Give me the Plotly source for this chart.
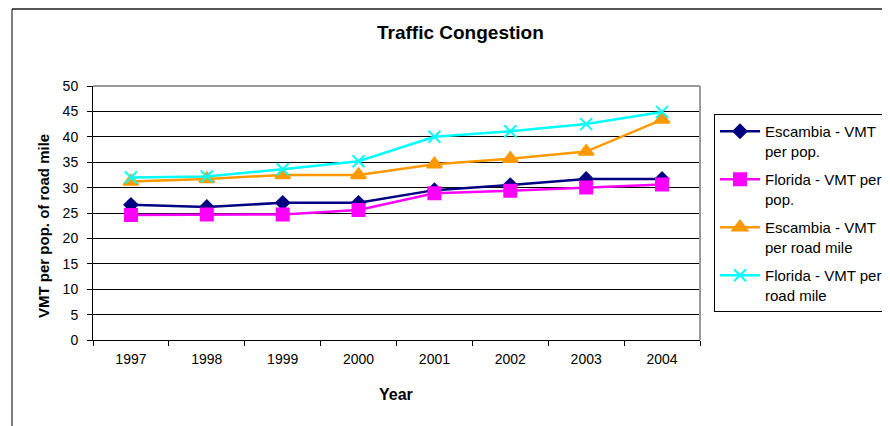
import plotly.graph_objects as go

years = ["1997", "1998", "1999", "2000", "2001", "2002", "2003", "2004"]
esc_pop = [26.6, 26.2, 27.0, 27.0, 29.5, 30.5, 31.7, 31.7]
fla_pop = [24.6, 24.7, 24.7, 25.6, 28.9, 29.4, 30.0, 30.6]
esc_mile = [31.2, 31.7, 32.5, 32.5, 34.6, 35.7, 37.1, 43.4]
fla_mile = [32.0, 32.2, 33.6, 35.2, 40.0, 41.1, 42.5, 44.9]
y_ticks = list(range(0, 55, 5))

series = [
    ("Escambia - VMT<br>per pop.", esc_pop, "#000080", "diamond", 10),
    ("Florida - VMT per<br>pop.", fla_pop, "#FF00FF", "square", 12),
    ("Escambia - VMT<br>per road mile", esc_mile, "#FF9900", "triangle-up", 13),
    ("Florida - VMT per<br>road mile", fla_mile, "#00FFFF", "x-thin-open", 12),
]

fig = go.Figure()
for i, (name, vals, col, sym, sz) in enumerate(series):
    fig.add_trace(go.Scatter(
        x=years, y=vals, name=name, mode="lines+markers",
        line=dict(color=col, width=2.5),
        marker=dict(symbol=sym, size=sz, color=col, line=dict(color=col, width=2)),
        legendgroup=f"g{i}",
    ))

OFF = 8  # page body margin
L, R, T, B = 93, 700, 86, 340   # target page coords of the plot area
W, H = 890 - OFF, 426 - OFF
pw, ph = R - L, B - T

def px(x):
    return (x - L) / pw

def py(y):
    return (B - y) / ph

fig.update_layout(
    width=W, height=H,
    margin=dict(l=L - OFF, r=W - (R - OFF), t=T - OFF, b=H - (B - OFF), pad=0),
    paper_bgcolor="white", plot_bgcolor="white",
    font=dict(family="Liberation Sans, Arial, sans-serif", size=14, color="black"),
    showlegend=True,
    legend=dict(
        xref="container", yref="container",
        x=(714 - OFF) / W, y=(H - (114 - OFF)) / H, xanchor="left", yanchor="top",
        bordercolor="black", borderwidth=1, bgcolor="white",
        font=dict(size=15), tracegroupgap=6, valign="top",
        itemwidth=40,
    ),
    annotations=[
        dict(text="<b>Traffic Congestion</b>", x=px(460), y=py(33), xref="paper", yref="paper",
             showarrow=False, font=dict(size=19), xanchor="center", yanchor="middle"),
        dict(text="<b>VMT per pop. of road mile</b>", x=px(43), y=py(226), xref="paper", yref="paper",
             showarrow=False, font=dict(size=15), textangle=-90, xanchor="center", yanchor="middle"),
        dict(text="<b>Year</b>", x=px(396), y=py(394), xref="paper", yref="paper",
             showarrow=False, font=dict(size=16), xanchor="center", yanchor="middle"),
    ],
    shapes=[
        dict(type="line", xref="paper", yref="paper", x0=px(12), x1=px(900), y0=py(9), y1=py(9),
             line=dict(color="#555555", width=2)),
        dict(type="line", xref="paper", yref="paper", x0=px(12), x1=px(12), y0=py(9), y1=py(440),
             line=dict(color="black", width=1)),
        dict(type="line", xref="paper", yref="paper", x0=0, x1=1, y0=1, y1=1,
             line=dict(color="#999999", width=2)),
        dict(type="line", xref="paper", yref="paper", x0=1, x1=1, y0=0, y1=1,
             line=dict(color="#999999", width=2)),
    ],
)

fig.update_xaxes(
    type="category", range=[-0.5, 7.5], showgrid=False,
    showline=True, linecolor="black", linewidth=1,
    ticks="outside", ticklen=5, tickcolor="black", tickson="boundaries",
    tickfont=dict(size=14), ticklabelstandoff=6, fixedrange=True,
)
fig.update_yaxes(
    range=[0, 50], tickvals=y_ticks, showgrid=True, gridcolor="black", gridwidth=1,
    showline=True, linecolor="black", linewidth=1, zeroline=False,
    ticks="outside", ticklen=5, tickcolor="black",
    tickfont=dict(size=14), ticklabelstandoff=6, fixedrange=True,
)

fig.write_html("out.html")
